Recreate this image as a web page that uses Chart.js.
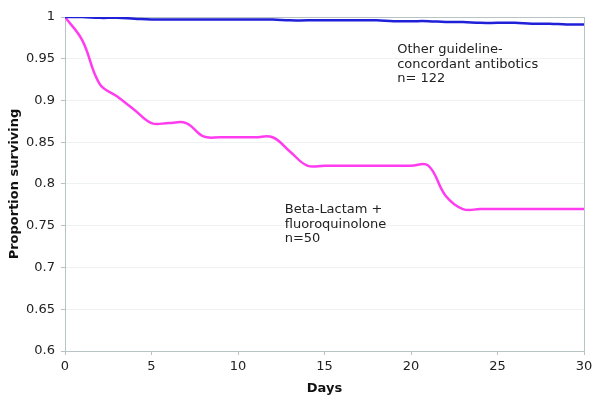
<!DOCTYPE html>
<html>
<head>
<meta charset="utf-8">
<script src="https://cdn.jsdelivr.net/npm/chart.js@4.4.1/dist/chart.umd.min.js"></script>
<style>
  html, body { margin: 0; padding: 0; background: #fff; }
  #wrap { width: 600px; height: 400px; }
</style>
</head>
<body>
<div id="wrap"><canvas id="survivalChart"></canvas></div>
<script>
const days = [0, 1, 2, 3, 4, 5, 6, 7, 8, 9, 10, 11, 12, 13, 14, 15, 16, 17, 18, 19, 20, 21, 22, 23, 24, 25, 26, 27, 28, 29, 30];
const betaLactamValues = [1.000, 0.972, 0.920, 0.905, 0.889, 0.873, 0.873, 0.873, 0.857, 0.856, 0.856, 0.856, 0.856, 0.839, 0.822,
  0.822, 0.822, 0.822, 0.822, 0.822, 0.822, 0.822, 0.786, 0.770, 0.770, 0.770, 0.770, 0.770, 0.770, 0.770, 0.770];
const otherValues = [1.000, 1.000, 0.999, 0.999, 0.998, 0.997, 0.997, 0.997, 0.997, 0.997, 0.997, 0.997, 0.997, 0.996, 0.996,
  0.996, 0.996, 0.996, 0.996, 0.995, 0.995, 0.995, 0.994, 0.994, 0.993, 0.993, 0.993, 0.992, 0.992, 0.991, 0.991];

// annotation text with its anchor in data units (day, proportion)
const labels = [
  { lines: ["Other guideline-", "concordant antibotics", "n= 122"], day: 19.2, value: 0.9605 },
  { lines: ["Beta-Lactam +", "fluoroquinolone", "n=50"], day: 12.7, value: 0.769 }
];

const FONT = "'DejaVu Sans', Verdana, sans-serif";

const frame = {
  id: "frame",
  beforeDatasetsDraw(chart) {
    const { ctx, chartArea: a } = chart;
    ctx.save();
    ctx.strokeStyle = "#b8c4c4";
    ctx.lineWidth = 1;
    ctx.strokeRect(a.left + 0.5, a.top + 0.5, a.right - a.left, a.bottom - a.top);
    ctx.restore();
  },
  afterDatasetsDraw(chart) {
    const { ctx, scales } = chart;
    ctx.save();
    ctx.fillStyle = "#222";
    ctx.font = "13px " + FONT;
    ctx.textBaseline = "middle";
    labels.forEach((l) => {
      const x = scales.x.getPixelForValue(l.day);
      const y = scales.y.getPixelForValue(l.value);
      l.lines.forEach((t, i) => ctx.fillText(t, x, y + i * 14.5));
    });
    ctx.restore();
  }
};

const toPoints = (values) => values.map((v, i) => ({ x: days[i], y: v }));

new Chart(document.getElementById("survivalChart"), {
  type: "line",
  data: {
    datasets: [
      {
        label: "Other guideline-concordant antibotics",
        data: toPoints(otherValues),
        borderColor: "#2020d8",
        borderWidth: 2.5,
        pointRadius: 0,
        tension: 0.4
      },
      {
        label: "Beta-Lactam + fluoroquinolone",
        data: toPoints(betaLactamValues),
        borderColor: "#ff3cf0",
        borderWidth: 2.5,
        pointRadius: 0,
        tension: 0.4
      }
    ]
  },
  options: {
    responsive: true,
    maintainAspectRatio: false,
    animation: false,
    // tick labels already reserve about 14px on top and 12px on the right
    layout: { padding: { top: 17, right: 16, left: 0, bottom: 0 } },
    plugins: { legend: { display: false }, tooltip: { enabled: false } },
    scales: {
      x: {
        type: "linear",
        min: 0,
        max: 30,
        afterFit: (axis) => { axis.height = 49; },
        ticks: { stepSize: 5, color: "#222", font: { family: FONT, size: 13 }, padding: 4 },
        grid: { drawOnChartArea: false, tickLength: 4, tickColor: "#b8c4c4" },
        border: { color: "#b8c4c4" },
        title: { display: true, text: "Days", color: "#111", font: { family: FONT, size: 13, weight: "bold" }, padding: { top: 4 } }
      },
      y: {
        min: 0.6,
        max: 1,
        afterFit: (axis) => { axis.width = 65; },
        ticks: {
          stepSize: 0.05,
          color: "#222",
          font: { family: FONT, size: 13 },
          padding: 6,
          callback: (v) => String(Number(v.toFixed(2)))
        },
        grid: { color: "#eef2f2", tickLength: 4, tickColor: "#b8c4c4" },
        border: { color: "#b8c4c4" },
        title: { display: true, text: "Proportion surviving", color: "#111", font: { family: FONT, size: 13, weight: "bold" }, padding: { top: 7 } }
      }
    }
  },
  plugins: [frame]
});
</script>
</body>
</html>
